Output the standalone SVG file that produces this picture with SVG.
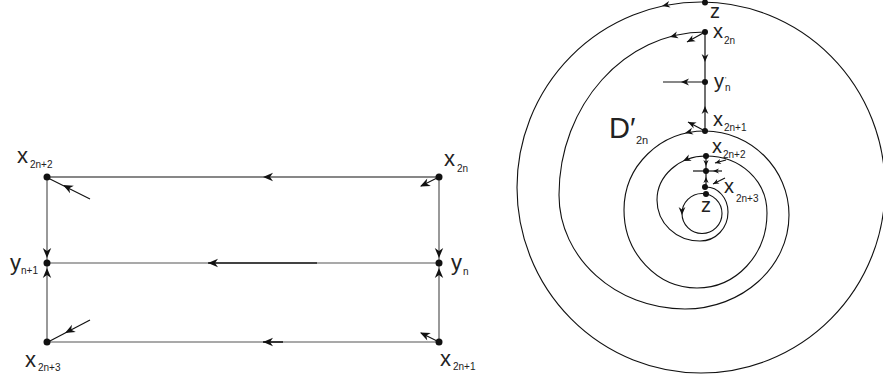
<svg xmlns="http://www.w3.org/2000/svg" width="883" height="381" viewBox="0 0 883 381">
<style>
.ln{fill:none;stroke:#555;stroke-width:1.2}
.lk{fill:none;stroke:#111;stroke-width:1.2}
.dk{fill:none;stroke:#222;stroke-width:1.7}
.sp{fill:none;stroke:#111;stroke-width:1.1}
.dot{fill:#111}
.ah{fill:#111}
.t{font-family:"Liberation Sans",Arial,sans-serif;fill:#222}
.lab{font-size:22px}
.labr{font-size:20px}
.sub{font-size:10px}
</style>
<defs>
<path id="ah" d="M0,0 L-10,-4.2 L-7,0 L-10,4.2 Z"/>
<path id="ahs" d="M0,0 L-8,-3.4 L-5.6,0 L-8,3.4 Z"/>
<path id="aht" d="M0,0 L-6,-2.6 L-4.2,0 L-6,2.6 Z"/>
</defs>

<g id="connectors">
  <line class="lk" x1="47" y1="177" x2="439" y2="177"/>
  <line class="ln" x1="47" y1="263" x2="439" y2="263"/>
  <line class="dk" x1="208" y1="263" x2="317" y2="263"/>
  <line class="ln" x1="47" y1="342" x2="439" y2="342"/>
  <line class="dk" x1="263" y1="342" x2="283" y2="342"/>
  <line class="ln" x1="47" y1="177" x2="47" y2="342"/>
  <line class="ln" x1="439" y1="177" x2="439" y2="342"/>
  <line class="lk" x1="90" y1="199" x2="48" y2="178"/>
  <line class="lk" x1="90" y1="320" x2="48" y2="342"/>
  <line class="lk" x1="439" y1="177" x2="421" y2="186"/>
  <line class="lk" x1="439" y1="342" x2="421" y2="333"/>
  <g class="ah">
    <use href="#ah" transform="translate(263,177) rotate(180)"/>
    <use href="#ah" transform="translate(208,263) rotate(180)"/>
    <use href="#ah" transform="translate(263,342) rotate(180)"/>
    <use href="#ah" transform="translate(47,258) rotate(90)"/>
    <use href="#ah" transform="translate(47,268) rotate(-90)"/>
    <use href="#ah" transform="translate(439,258) rotate(90)"/>
    <use href="#ah" transform="translate(439,268) rotate(-90)"/>
    <use href="#ah" transform="translate(63,185) rotate(206.6)"/>
    <use href="#ah" transform="translate(65,333) rotate(152.4)"/>
    <use href="#ah" transform="translate(420,186.5) rotate(154.7)"/>
    <use href="#ah" transform="translate(420,332.5) rotate(205.3)"/>
  </g>

  <ellipse class="sp" cx="701" cy="187.5" rx="184" ry="185.5"/>
  <path class="sp" d="M705,32 C625,32 559,105 559,195 C559,258 616,309 685,309 C742,309 789,267 789,215 C789,169 751,131 705,131"/>
  <path class="sp" d="M705,131 C660,131 624,166 624,210 C624,253 657,288 697,288 C736,288 767,255 767,213 C767,180 740,156 706,156"/>
  <path class="sp" d="M706,156 C679,156 657,176 657,200 C657,223 676,241 700,241 C716,241 728,228 728,212 C728,198 718,187 706,187"/>
  <circle class="sp" cx="702" cy="213.5" r="20"/>
  <line class="lk" x1="705" y1="32" x2="705" y2="131"/>
  <line class="lk" x1="663" y1="82" x2="705" y2="82"/>
  <line class="lk" x1="705" y1="32" x2="687" y2="42"/>
  <line class="lk" x1="705" y1="131" x2="688" y2="122"/>
  <line class="lk" x1="706" y1="156" x2="706" y2="187"/>
  <line class="lk" x1="693" y1="171" x2="722" y2="171"/>
  <line class="lk" x1="726" y1="160" x2="715" y2="163"/>
  <line class="lk" x1="725" y1="178" x2="713" y2="184"/>
  <g class="ah">
    <use href="#ahs" transform="translate(662,6) rotate(167.6)"/>
    <use href="#ahs" transform="translate(670,37) rotate(164.6)"/>
    <use href="#ahs" transform="translate(685,133) rotate(166.6)"/>
    <use href="#ahs" transform="translate(683,161) rotate(154.7)"/>
    <use href="#ahs" transform="translate(682,215) rotate(90)"/>
    <use href="#ahs" transform="translate(705,62) rotate(90)"/>
    <use href="#ahs" transform="translate(705,106) rotate(-90)"/>
    <use href="#ahs" transform="translate(681,82) rotate(180)"/>
    <use href="#ahs" transform="translate(687,42) rotate(152)"/>
    <use href="#ahs" transform="translate(688,122) rotate(206.6)"/>
    <use href="#aht" transform="translate(706,166) rotate(90)"/>
    <use href="#aht" transform="translate(706,177) rotate(-90)"/>
    <use href="#aht" transform="translate(713,171) rotate(180)"/>
    <use href="#aht" transform="translate(715,163) rotate(165)"/>
    <use href="#aht" transform="translate(713,184) rotate(153)"/>
  </g>
</g>

<g id="node-x2n2">
  <circle class="dot" cx="47" cy="177" r="3.5"/>
  <text class="t lab" x="17" y="163">x</text><text class="t sub" x="30" y="168">2n+2</text>
</g>
<g id="node-yn1">
  <circle class="dot" cx="47" cy="263" r="3.5"/>
  <text class="t lab" x="10" y="270">y</text><text class="t sub" x="21" y="274">n+1</text>
</g>
<g id="node-x2n3">
  <circle class="dot" cx="47" cy="342" r="3.5"/>
  <text class="t lab" x="25" y="367">x</text><text class="t sub" x="38" y="371">2n+3</text>
</g>
<g id="node-x2n">
  <circle class="dot" cx="439" cy="177" r="3.5"/>
  <text class="t lab" x="444" y="166">x</text><text class="t sub" x="457" y="172">2n</text>
</g>
<g id="node-yn">
  <circle class="dot" cx="439" cy="263" r="3.5"/>
  <text class="t lab" x="451" y="270">y</text><text class="t sub" x="463" y="275">n</text>
</g>
<g id="node-x2n1">
  <circle class="dot" cx="439" cy="342" r="3.5"/>
  <text class="t lab" x="440" y="366">x</text><text class="t sub" x="453" y="370">2n+1</text>
</g>

<g id="r-z-top">
  <circle class="dot" cx="705" cy="2.5" r="3"/>
  <text class="t labr" x="710" y="18">z</text>
</g>
<g id="r-x2n">
  <circle class="dot" cx="705" cy="32" r="3"/>
  <text class="t labr" x="713" y="38">x</text><text class="t sub" x="724" y="44">2n</text>
</g>
<g id="r-yn">
  <circle class="dot" cx="705" cy="82" r="3"/>
  <text class="t labr" x="714" y="88">y</text><text class="t" font-size="7" x="725" y="82">'</text><text class="t sub" x="725" y="91">n</text>
</g>
<g id="r-x2n1">
  <circle class="dot" cx="705" cy="131" r="3"/>
  <text class="t labr" x="713" y="126">x</text><text class="t sub" x="724" y="131">2n+1</text>
</g>
<g id="r-D">
  <text class="t" font-size="29" x="609" y="138">D′</text><text class="t" font-size="11" x="636" y="144">2n</text>
</g>
<g id="r-x2n2">
  <circle class="dot" cx="706" cy="156" r="3"/>
  <text class="t labr" x="712" y="153">x</text><text class="t sub" x="723" y="158">2n+2</text>
</g>
<g id="r-ymid">
  <circle class="dot" cx="706" cy="171" r="3"/>
</g>
<g id="r-x2n3">
  <circle class="dot" cx="705" cy="187" r="3"/>
  <text class="t labr" x="724" y="193">x</text><text class="t sub" x="736" y="202">2n+3</text>
</g>
<g id="r-z-in">
  <circle class="dot" cx="706" cy="194" r="3"/>
  <text class="t labr" x="701" y="212">z</text>
</g>
</svg>
